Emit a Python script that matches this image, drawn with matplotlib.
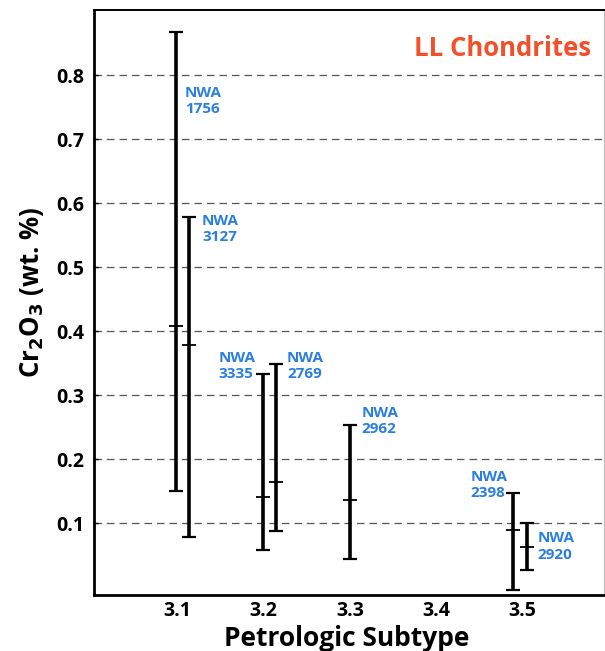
import matplotlib.pyplot as plt

# petrologic subtype position, mean and range of Cr2O3 (wt. %)
names = ["NWA\n1756", "NWA\n3127", "NWA\n3335", "NWA\n2769", "NWA\n2962", "NWA\n2398", "NWA\n2920"]
subtype = [3.098, 3.1135, 3.199, 3.214, 3.300, 3.489, 3.505]
mean = [0.408, 0.378, 0.140, 0.164, 0.136, 0.089, 0.0625]
low = [0.150, 0.078, 0.058, 0.0875, 0.044, -0.005, 0.027]
high = [0.867, 0.578, 0.333, 0.348, 0.253, 0.147, 0.100]

# label anchor (left x, top y) in data coords
label_x = [3.109, 3.1286, 3.148, 3.227, 3.313, 3.440, 3.517]
label_y = [0.783, 0.583, 0.369, 0.369, 0.283, 0.183, 0.087]

plt.rcParams["font.family"] = ["Open Sans", "DejaVu Sans"]
fig = plt.figure(figsize=(6.05, 6.51), dpi=100)
ax = fig.add_axes([0.1554, 0.086, 0.8426, 0.8986])

err = [[m - l for m, l in zip(mean, low)], [h - m for h, m in zip(high, mean)]]
ax.errorbar(subtype, mean, yerr=err, fmt="none", ecolor="black",
            elinewidth=2.6, capsize=5, capthick=1.6, zorder=3)
ax.plot(subtype, mean, linestyle="none", marker="_", markersize=10,
        markeredgewidth=1.3, color="black", zorder=4)

for x, y, n in zip(label_x, label_y, names):
    ax.text(x, y, n, color="#2a7fe0", fontsize=11, fontweight="bold",
            va="top", ha="left", linespacing=1.2)

ax.text(0.975, 0.958, "LL Chondrites", transform=ax.transAxes, ha="right",
        va="top", color="#f0502a", fontsize=18.5, fontweight="bold")

ax.set_xlim(3.0035, 3.594)
ax.set_ylim(-0.0125, 0.902)
ax.set_xticks([3.1, 3.2, 3.3, 3.4, 3.5])
ax.set_yticks([0.1, 0.2, 0.3, 0.4, 0.5, 0.6, 0.7, 0.8])
ax.tick_params(labelsize=14)
ax.tick_params(axis="x", length=0, pad=4)
ax.tick_params(axis="y", direction="in", length=3, width=1, pad=7)
for t in ax.get_xticklabels() + ax.get_yticklabels():
    t.set_fontweight("bold")
ax.yaxis.grid(True, linestyle=(0, (6, 4)), color="#555555", linewidth=0.9)
ax.set_axisbelow(True)

for s in ["left", "bottom"]:
    ax.spines[s].set_linewidth(2)
ax.spines["top"].set_linewidth(1.4)
ax.spines["right"].set_color("#bbbbbb")

ax.set_xlabel("Petrologic Subtype", fontsize=19, fontweight="bold")
ax.set_ylabel("Cr$_\\mathbf{2}$O$_\\mathbf{3}$ (wt. %)", fontsize=18.5, fontweight="bold")
ax.xaxis.set_label_coords(0.496, -0.052)
ax.yaxis.set_label_coords(-0.094, 0.518)

fig.savefig("out.png", dpi=100)
